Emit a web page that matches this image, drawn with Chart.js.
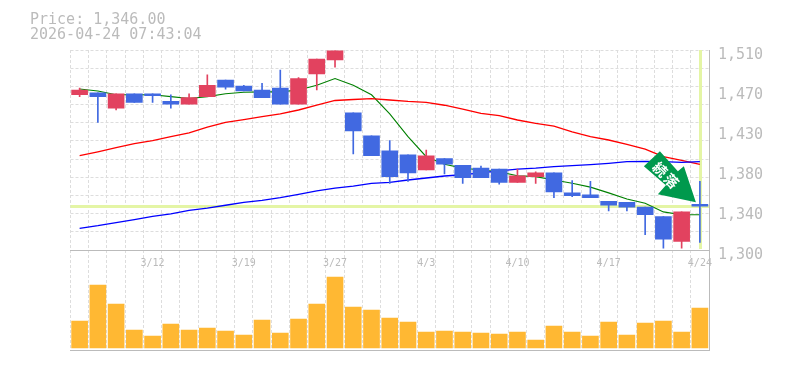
<!DOCTYPE html>
<html>
<head>
<meta charset="utf-8">
<title>Price chart</title>
<style>
    html, body { margin: 0; padding: 0; background: #fff; overflow: hidden; }
    #wrap { position: relative; width: 785px; height: 370px; }
    #head {
        position: absolute; left: 30px; top: 12px;
        font: 15px/15px 'DejaVu Sans Mono', monospace; color: #bbb; white-space: pre;
    }
</style>
<script src="https://cdn.jsdelivr.net/npm/chart.js@4"></script>
</head>
<body>
<div id="wrap">
    <div id="head">Price: 1,346.00
2026-04-24 07:43:04</div>
    <canvas id="priceChart" width="785" height="370"></canvas>
</div>
<script>
const dates = ['3/6','3/9','3/10','3/11','3/12','3/13','3/16','3/17','3/18','3/19','3/23','3/24','3/25','3/26','3/27','3/30','3/31','4/1','4/2','4/3','4/6','4/7','4/8','4/9','4/10','4/13','4/14','4/15','4/16','4/17','4/20','4/21','4/22','4/23','4/24'];
const opens  = [1463,1465,1449,1464,1464,1456,1453,1461,1478.5,1472,1468,1470,1453,1485,1499.5,1444,1420,1404,1400,1384,1396,1389,1386,1385,1371,1377,1381,1360,1358,1351,1350,1345,1335,1309,1348];
const highs  = [1470,1465,1464,1464,1464,1463,1464,1484,1478.5,1473,1475,1489,1481,1500.5,1509,1444,1420,1415,1400,1405,1396,1389,1388,1385,1385,1382,1381,1373,1372,1351,1350,1345,1335,1340,1372];
const lows   = [1461,1434,1447,1455,1455,1449,1453,1461,1469,1467,1460,1453,1453,1468,1492,1401,1399,1370,1372,1384,1380,1370,1376,1369,1371,1370,1355,1356,1355,1341,1341,1316,1302,1302,1308];
const closes = [1468,1461,1464,1455,1462,1453,1460,1473,1471,1467,1460,1453,1480,1500.5,1509,1425,1399,1377,1381,1399,1390,1376,1376,1371,1378,1381,1361,1357,1355,1347,1345,1337,1311.5,1340,1346];
const maShort = [1469,1467,1463,1463,1463,1461,1459,1461,1464,1465.6,1466,1466,1468,1473,1480,1473,1463,1443,1419,1398,1390,1386,1384,1382,1378,1377,1373.5,1370,1366,1360,1353.5,1349,1340,1337,1337];
const maMid   = [1399,1403,1407.4,1411.6,1414.8,1419,1423,1429,1434,1437,1440,1443,1447,1452,1457,1458,1459,1457.5,1456,1455,1452,1448,1443.5,1441,1436.5,1433,1430,1424,1419,1415.5,1411,1406,1398,1394,1390];
const maLong  = [1322.8,1325.5,1328.7,1332,1335.4,1338,1341.7,1344,1347,1350,1352,1355,1358.5,1362,1365,1367,1370,1371,1373.5,1375.6,1377.7,1379,1381,1383,1385,1386,1387.5,1388.5,1389.6,1391,1392.7,1393,1392.7,1392,1392.7];
const volumes = [27,63,44,18,12,24,18,20,17,13,28,15,29,44,71,41,38,30,26,16,17,16,15,14,16,8,22,16,12,26,13,25,27,16,40];

const priceTicks = [1300,1342,1384,1426,1468,1510];
const priceLabels = ['1,300','1,340','1,380','1,430','1,470','1,510'];
const gridDivisions = 11;
const lastPrice = 1346;

const RED = '#e2425f';
const BLUE = '#4169e1';
const HILITE = '#e4f5a5';
const AXIS = '#bbb';
const GRID = '#ddd';

const candleColors = opens.map((o, i) => closes[i] >= o ? RED : BLUE);

// crosshair on the last price, under the candles
const crosshair = {
    id: 'crosshair',
    beforeDatasetsDraw(chart) {
        const { ctx, chartArea, scales } = chart;
        const y = scales.y.getPixelForValue(lastPrice);
        const x = scales.x.getPixelForValue(dates.length - 1);
        ctx.save();
        ctx.fillStyle = HILITE;
        ctx.fillRect(chartArea.left, Math.round(y) - 1, chartArea.right - chartArea.left, 3);
        ctx.fillRect(Math.round(x) - 1, chartArea.top, 3, scales.y.bottom - chartArea.top - 1);
        ctx.restore();
    }
};

// green arrow pointing at the last candle
const arrow = {
    id: 'arrow',
    afterDatasetsDraw(chart) {
        const { ctx, scales } = chart;
        const tipX = scales.x.getPixelForValue(dates.length - 1) - 4;
        const tipY = scales.y.getPixelForValue(lastPrice) - 4;
        const shape = [[-36,-51],[-18,-31],[-12,-36],[0,0],[-38,-8],[-30,-17],[-52,-36]];
        ctx.save();
        ctx.fillStyle = '#00994d';
        ctx.beginPath();
        shape.forEach((p, i) => i ? ctx.lineTo(tipX + p[0], tipY + p[1]) : ctx.moveTo(tipX + p[0], tipY + p[1]));
        ctx.closePath();
        ctx.fill();
        ctx.fillStyle = '#fff';
        ctx.font = "bold 14px 'Noto Sans CJK JP'";
        ctx.textAlign = 'center';
        ctx.textBaseline = 'middle';
        ctx.translate(tipX - 30, tipY - 27);
        ctx.rotate(Math.PI / 4);
        ctx.fillText('続', -8, 0);
        ctx.fillText('落', 8, 0);
        ctx.restore();
    }
};

const ctx = document.getElementById('priceChart').getContext('2d');

new Chart(ctx, {
    type: 'bar',
    data: {
        labels: dates,
        datasets: [
            {
                label: 'Volume',
                data: volumes,
                yAxisID: 'yVol',
                backgroundColor: '#ffb833',
                barThickness: 16,
                grouped: false,
                order: 5
            },
            {
                type: 'line',
                label: 'MA long',
                data: maLong,
                borderColor: '#0000ff',
                borderWidth: 1.3,
                pointRadius: 0,
                order: 4
            },
            {
                type: 'line',
                label: 'MA mid',
                data: maMid,
                borderColor: '#ff0000',
                borderWidth: 1.3,
                pointRadius: 0,
                order: 4
            },
            {
                type: 'line',
                label: 'MA short',
                data: maShort,
                borderColor: '#008000',
                borderWidth: 1.1,
                pointRadius: 0,
                order: 4
            },
            {
                label: 'Range',
                data: lows.map((l, i) => [l, highs[i]]),
                backgroundColor: candleColors,
                barThickness: 1,
                grouped: false,
                order: 2
            },
            {
                label: 'Body',
                data: opens.map((o, i) => [o, closes[i]]),
                backgroundColor: candleColors,
                barThickness: 16,
                grouped: false,
                order: 1
            }
        ]
    },
    options: {
        responsive: false,
        animation: false,
        layout: { padding: { left: 70.5, top: 50, bottom: 20, right: 0 } },
        plugins: { legend: { display: false }, tooltip: { enabled: false } },
        scales: {
            x: {
                position: { y: 1300 },
                offset: true,
                grid: { offset: true, color: GRID, drawTicks: false },
                border: { color: AXIS, dash: [3, 2] },
                ticks: {
                    autoSkip: false,
                    maxRotation: 0,
                    padding: 7,
                    color: AXIS,
                    font: { family: "'DejaVu Sans Mono'", size: 10 },
                    callback: function(value, index) {
                        return index % 5 === 4 ? dates[index] : '';
                    }
                }
            },
            x2: {
                position: 'bottom',
                grid: { display: false, drawTicks: false },
                border: { color: AXIS },
                ticks: { display: false }
            },
            y: {
                position: 'right',
                stack: 'panels',
                stackWeight: 2,
                min: 1300,
                max: 1510,
                afterFit: function(scale) { scale.width = 76; },
                afterBuildTicks: function(scale) {
                    const step = (1510 - 1300) / gridDivisions;
                    const values = priceTicks.slice();
                    for (let i = 1; i < gridDivisions; i++) values.push(1300 + step * i);
                    scale.ticks = values.sort((a, b) => a - b).map(v => ({ value: v }));
                },
                grid: {
                    drawTicks: false,
                    color: function(c) {
                        const v = c.tick.value;
                        const labelOnly = priceTicks.includes(v) && v !== 1300 && v !== 1510;
                        return labelOnly ? 'transparent' : GRID;
                    }
                },
                border: { color: AXIS, dash: [3, 2] },
                ticks: {
                    autoSkip: false,
                    padding: 9,
                    labelOffset: 5,
                    color: AXIS,
                    font: { family: "'DejaVu Sans Mono'", size: 15 },
                    callback: function(value) {
                        const i = priceTicks.indexOf(value);
                        return i >= 0 ? priceLabels[i] : '';
                    }
                }
            },
            yVol: {
                position: 'right',
                stack: 'panels',
                stackWeight: 1,
                min: -2,
                max: 98,
                afterFit: function(scale) { scale.width = 76; },
                grid: { display: false, drawTicks: false },
                border: { color: AXIS },
                ticks: { display: false }
            }
        }
    },
    plugins: [crosshair, arrow]
});
</script>
</body>
</html>
